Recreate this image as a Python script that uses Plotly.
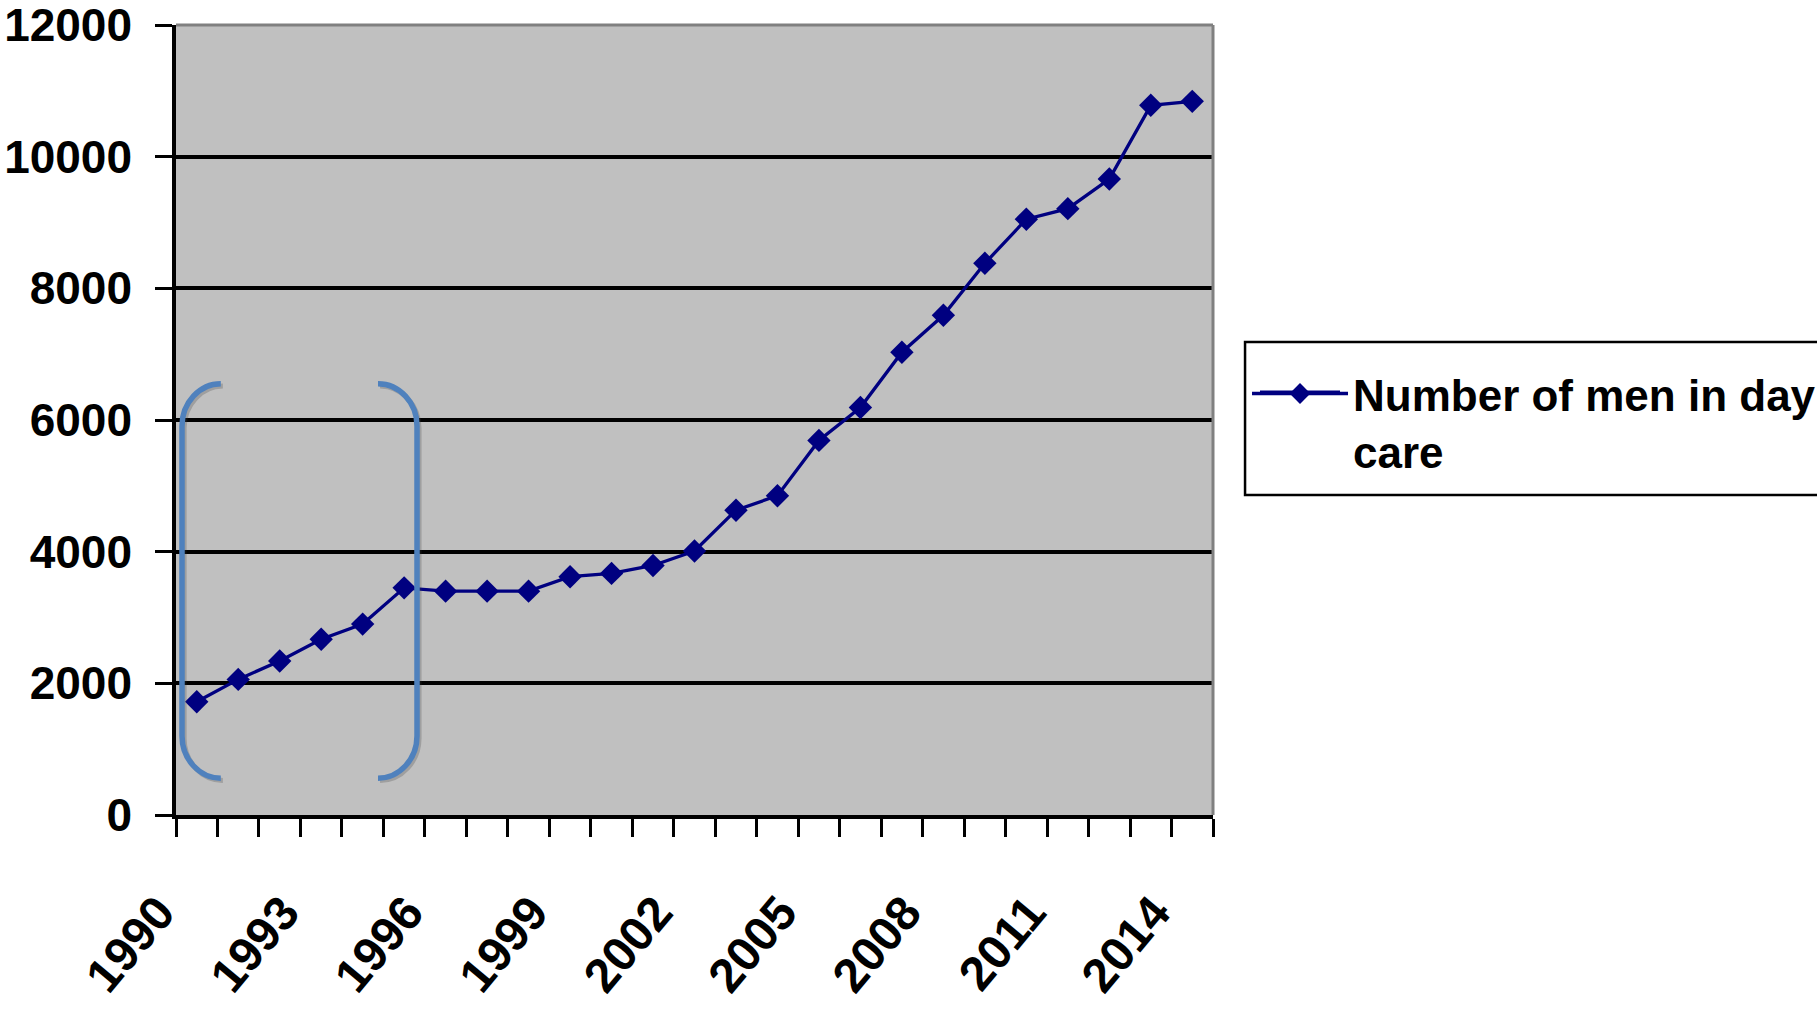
import plotly.graph_objects as go

# Yearly count of men working in day care, 1990-2014
years = [1990, 1991, 1992, 1993, 1994, 1995, 1996, 1997, 1998, 1999,
         2000, 2001, 2002, 2003, 2004, 2005, 2006, 2007, 2008, 2009,
         2010, 2011, 2012, 2013, 2014]
men_in_day_care = [1720, 2060, 2340, 2670, 2900, 3450, 3400, 3400, 3400, 3620,
                   3670, 3790, 4010, 4630, 4850, 5690, 6190, 7030, 7590, 8380,
                   9050, 9210, 9660, 10780, 10840]

# Labelled years on the category axis
tick_years = [1990, 1993, 1996, 1999, 2002, 2005, 2008, 2011, 2014]
tick_labels = ["1990", "1993", "1996", "1999", "2002", "2005", "2008", "2011", "2014"]

series_name = "Number of men in day<br>care"

FONT = "Liberation Sans Narrow, Arial Narrow, Liberation Sans, Arial, sans-serif"
NAVY = "#000080"
BRACKET = "#4f81bd"

fig = go.Figure()
fig.add_trace(go.Scatter(
    x=years, y=men_in_day_care, name=series_name, mode="lines+markers",
    line=dict(color=NAVY, width=3.3),
    marker=dict(symbol="diamond", size=18, color=NAVY),
))


def bracket_path(spine, tip, y_top, y_bot, curve):
    """Square-bracket outline with rounded corners, in data units."""
    dx = tip - spine
    return (f"M {tip},{y_top} "
            f"C {spine + 0.45 * dx},{y_top} {spine},{y_top - 0.45 * curve} {spine},{y_top - curve} "
            f"L {spine},{y_bot + curve} "
            f"C {spine},{y_bot + 0.45 * curve} {spine + 0.45 * dx},{y_bot} {tip},{y_bot}")


shapes = []
# brackets around the early-1990s growth period (soft shadow first, then the stroke)
for spine, tip in [(1989.645, 1990.58), (1995.31, 1994.37)]:
    shapes.append(dict(type="path", xref="x", yref="y", layer="above",
                       path=bracket_path(spine + 0.05, tip + 0.05, 6550 - 35, 560 - 35, 640),
                       line=dict(color="rgba(60,60,60,0.25)", width=5)))
    shapes.append(dict(type="path", xref="x", yref="y", layer="above",
                       path=bracket_path(spine, tip, 6550, 560, 640),
                       line=dict(color=BRACKET, width=5.5)))

# grey frame on the top and right of the plot area
shapes.append(dict(type="line", xref="paper", yref="paper", x0=0, x1=1, y0=1, y1=1,
                   layer="above", line=dict(color="#808080", width=3)))
shapes.append(dict(type="line", xref="paper", yref="paper", x0=1, x1=1, y0=0, y1=1,
                   layer="above", line=dict(color="#808080", width=3)))
# legend box, running off the right edge
shapes.append(dict(type="rect", xref="paper", yref="paper", x0=1.0309, x1=1.75,
                   y0=0.405, y1=0.5987, line=dict(color="black", width=2.5)))
# longer key line behind the legend marker
shapes.append(dict(type="line", xref="paper", yref="paper", xsizemode="pixel",
                   xanchor=1.0839, x0=-40, x1=40, y0=0.5354, y1=0.5354,
                   line=dict(color=NAVY, width=3.3)))

fig.update_layout(
    width=1817, height=1009,
    margin=dict(l=176, r=604, t=25, b=194, autoexpand=False),
    paper_bgcolor="white",
    plot_bgcolor="#c0c0c0",
    font=dict(family=FONT, size=44, color="black", weight=700),
    showlegend=True,
    legend=dict(x=1.0328, y=0.578, xanchor="left", yanchor="top", valign="top",
                itemwidth=96, bgcolor="rgba(0,0,0,0)", borderwidth=0,
                font=dict(family=FONT, size=44, color="black", weight=700)),
    shapes=shapes,
)

fig.update_xaxes(
    range=[1989.5, 2014.5], showgrid=False, zeroline=False,
    showline=True, linecolor="black", linewidth=3.5,
    tickmode="array", tickvals=tick_years, ticktext=tick_labels,
    ticks="", tickangle=-50, ticklabelstandoff=46, ticklabelshift=-38,
    tickfont=dict(family=FONT, size=48, color="black", weight=700),
    minor=dict(tick0=1989.5, dtick=1, ticks="outside", ticklen=18,
               tickwidth=3, tickcolor="black", showgrid=False),
)
fig.update_yaxes(
    range=[0, 12000], dtick=2000, tick0=0, tickformat="d",
    showgrid=True, gridcolor="black", gridwidth=3.5, zeroline=False,
    showline=True, linecolor="black", linewidth=3.5,
    ticks="outside", ticklen=17, tickwidth=3, tickcolor="black",
    ticklabelstandoff=14, ticklabeloverflow="allow",
    tickfont=dict(family=FONT, size=46, color="black", weight=700),
)

fig.write_html("out.html")
